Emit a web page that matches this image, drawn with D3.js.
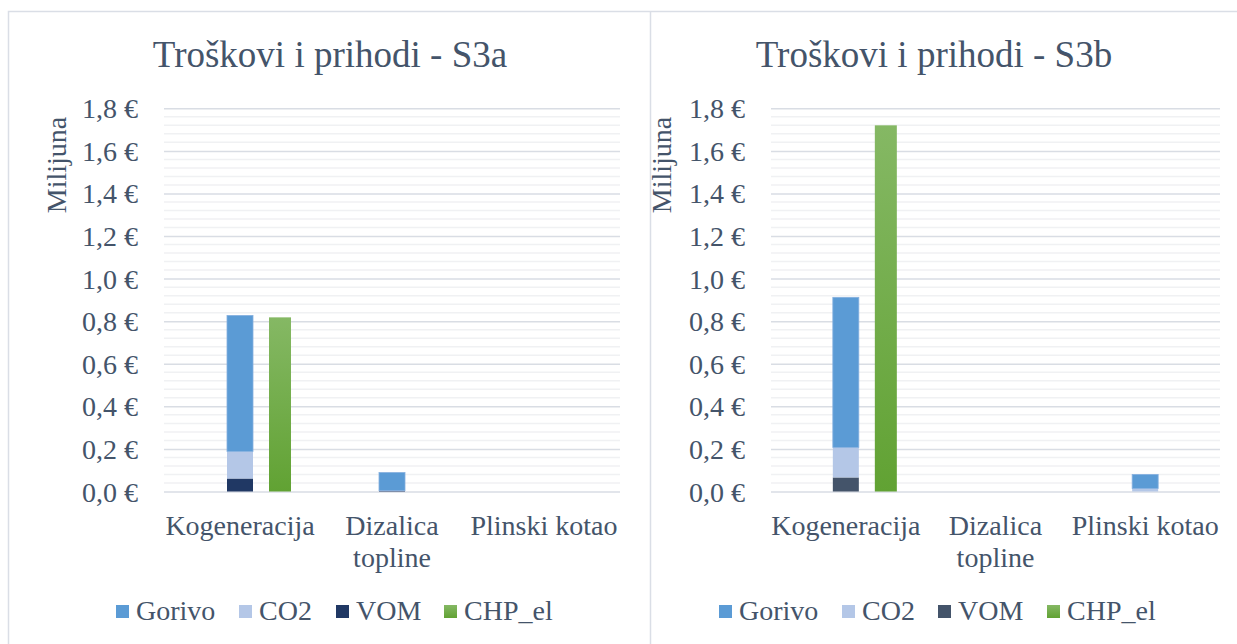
<!DOCTYPE html>
<html>
<head>
<meta charset="utf-8">
<script src="https://cdn.jsdelivr.net/npm/d3@7"></script>
<style>
  body { margin: 0; background: #fff; }
  text { font-family: "Liberation Serif", "Times New Roman", serif; fill: #44546a; }
</style>
</head>
<body>
<div id="svg"></div>
<script>
const categories = ["Kogeneracija", "Dizalica topline", "Plinski kotao"];
const seriesNames = ["Gorivo", "CO2", "VOM", "CHP_el"];
const yTicks = [0, 0.2, 0.4, 0.6, 0.8, 1.0, 1.2, 1.4, 1.6, 1.8];

// values in millions of euro
const gorivoA = [0.639, 0.085, 0];
const co2A = [0.127, 0, 0];
const vomA = [0.061, 0.004, 0];
const chpA = [0.818, 0, 0];

const gorivoB = [0.705, 0, 0.066];
const co2B = [0.141, 0, 0.014];
const vomB = [0.066, 0, 0];
const chpB = [1.72, 0, 0];

const width = 1237, height = 644;
const serif = "'Liberation Serif', 'Times New Roman', serif";

const svg = d3.select("#svg")
    .append("svg")
    .attr("width", width)
    .attr("height", height)
    .attr("font-family", serif);

const defs = svg.append("defs");
const grad = defs.append("linearGradient")
    .attr("id", "greenGrad")
    .attr("x1", 0).attr("y1", 0).attr("x2", 0).attr("y2", 1);
grad.append("stop").attr("offset", "0%").attr("stop-color", "#85b864");
grad.append("stop").attr("offset", "100%").attr("stop-color", "#61a233");

// panel borders
svg.append("path")
    .attr("d", "M8.5,644 V11.5 H1237 M650.5,11.5 V644")
    .attr("fill", "none")
    .attr("stroke", "#dadee6")
    .attr("stroke-width", 1.5);

function panel(opt) {
    const g = svg.append("g");
    const x = d3.scaleBand().domain(categories).range([opt.x0, opt.x1]);
    const y = d3.scaleLinear().domain([0, 1.8]).range([491.5, 108.3]);

    // minor gridlines
    const minor = d3.range(0, 1.8001, 0.04).filter((d, i) => i % 5 !== 0);
    g.selectAll(".minor").data(minor).join("line")
        .attr("x1", opt.x0).attr("x2", opt.x1)
        .attr("y1", d => y(d)).attr("y2", d => y(d))
        .attr("stroke", "#f0f1f3").attr("stroke-width", 1.5);

    const axis = d3.axisLeft(y).tickValues(yTicks)
        .tickSize(opt.x1 - opt.x0)
        .tickPadding(26)
        .tickFormat(d => d3.format(".1f")(d).replace(".", ",") + " €");
    const ax = g.append("g")
        .attr("transform", `translate(${opt.x1},0)`)
        .call(axis)
        .attr("font-family", serif);
    ax.select(".domain").remove();
    ax.selectAll(".tick line").attr("stroke", "#d9dde4").attr("stroke-width", 1.5);
    ax.selectAll(".tick text")
        .attr("font-size", 28)
        .attr("fill", "#44546a")
        .attr("dy", "0.34em");

    // stacked bars: VOM bottom, CO2, Gorivo top
    const rows = categories.map((c, i) => ({
        cat: c, VOM: opt.vom[i], CO2: opt.co2[i], Gorivo: opt.gorivo[i]
    }));
    const stack = d3.stack().keys(["VOM", "CO2", "Gorivo"])(rows);
    const colors = { Gorivo: "#5b9bd5", CO2: "#b4c7e7", VOM: opt.vomColor };
    const bw = 26;
    stack.forEach(layer => {
        g.append("g").selectAll("rect").data(layer).join("rect")
            .attr("x", d => x(d.data.cat) + x.bandwidth() / 2 - bw / 2)
            .attr("width", bw)
            .attr("y", d => y(d[1]))
            .attr("height", d => Math.max(0, y(d[0]) - y(d[1])))
            .attr("fill", colors[layer.key])
            .attr("stroke", layer.key === "Gorivo" ? "#86b0df" : "none")
            .attr("stroke-width", 0.8);
    });

    // CHP_el bars
    const gw = 22;
    g.append("g").selectAll("rect").data(categories).join("rect")
        .attr("x", (c) => x(c) + x.bandwidth() / 2 + 40 - gw / 2)
        .attr("width", gw)
        .attr("y", (c, i) => y(opt.chp[i]))
        .attr("height", (c, i) => y(0) - y(opt.chp[i]))
        .attr("fill", "url(#greenGrad)");

    // category labels
    categories.forEach(c => {
        const lines = c === "Dizalica topline" ? c.split(" ") : [c];
        const t = g.append("text")
            .attr("x", x(c) + x.bandwidth() / 2)
            .attr("y", 535)
            .attr("text-anchor", "middle")
            .attr("font-size", 28);
        lines.forEach((l, k) => {
            t.append("tspan").attr("x", x(c) + x.bandwidth() / 2)
                .attr("dy", k === 0 ? 0 : 32).text(l);
        });
    });

    // title
    g.append("text")
        .attr("x", opt.titleX).attr("y", 67)
        .attr("text-anchor", "middle")
        .attr("font-size", 37)
        .text(opt.title);

    // y axis title
    g.append("text")
        .attr("transform", `translate(${opt.labelX},165) rotate(-90)`)
        .attr("text-anchor", "middle")
        .attr("font-size", 28)
        .text("Milijuna");

    // legend
    const legColors = ["#5b9bd5", "#b4c7e7", opt.vomColor, "url(#greenGrad)"];
    const lg = g.append("g").selectAll("g").data(seriesNames).join("g")
        .attr("transform", (d, i) => `translate(${opt.legX[i]},605)`);
    lg.append("rect").attr("width", 13).attr("height", 13)
        .attr("fill", (d, i) => legColors[i]);
    lg.append("text").attr("x", 20).attr("y", 15)
        .attr("font-size", 28)
        .text(d => d);
}

panel({
    x0: 164, x1: 620, title: "Troškovi i prihodi - S3a", titleX: 330, labelX: 66,
    gorivo: gorivoA, co2: co2A, vom: vomA, chp: chpA, vomColor: "#203864",
    legX: [116, 239, 336, 444]
});
panel({
    x0: 771, x1: 1220, title: "Troškovi i prihodi - S3b", titleX: 934, labelX: 671,
    gorivo: gorivoB, co2: co2B, vom: vomB, chp: chpB, vomColor: "#44546a",
    legX: [719, 842, 938, 1047]
});
</script>
</body>
</html>
